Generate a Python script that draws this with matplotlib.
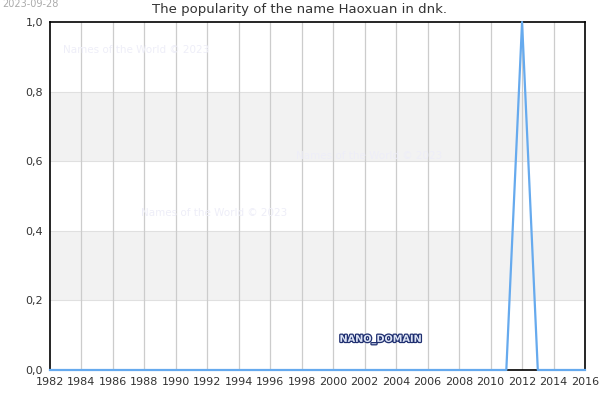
import matplotlib.pyplot as plt
import matplotlib.patheffects as pe
from matplotlib.ticker import FuncFormatter

years = list(range(1982, 2017))
popularity = [0, 0, 0, 0, 0, 0, 0, 0, 0, 0,
              0, 0, 0, 0, 0, 0, 0, 0, 0, 0,
              0, 0, 0, 0, 0, 0, 0, 0, 0, 0,
              1, 0, 0, 0, 0]
xticks = list(range(1982, 2017, 2))
yticks = [0.0, 0.2, 0.4, 0.6, 0.8, 1.0]

fig = plt.figure(figsize=(6, 4), dpi=100)
ax = fig.add_axes([50/600, 30/400, 535/600, 348/400])

# gray bands
for lo, hi in [(0.2, 0.4), (0.6, 0.8)]:
    ax.axhspan(lo, hi, color='#f2f2f2', zorder=0, lw=0)
for y in yticks[1:-1]:
    ax.axhline(y, color='#e0e0e0', lw=0.8, zorder=1)
for x in xticks[1:-1]:
    ax.axvline(x, color='#cccccc', lw=0.9, zorder=1)

ax.plot(years, popularity, color='#66aaee', lw=1.6, zorder=3, clip_on=False)

ax.set_xlim(1982, 2016)
ax.set_ylim(0, 1)
ax.set_xticks(xticks)
ax.set_yticks(yticks)
ax.yaxis.set_major_formatter(FuncFormatter(lambda v, p: f'{v:.1f}'.replace('.', ',')))
ax.tick_params(length=0, labelsize=8, labelcolor='#333333', pad=5)
for s in ax.spines.values():
    s.set_color('black')
    s.set_linewidth(1.2)

# watermarks
wm = 'Names of the World © 2023'
for x, y in [(1987.5, 0.92), (2002.3, 0.615), (1992.4, 0.451)]:
    ax.text(x, y, wm, fontsize=7.5, color='#eeeef8', ha='center', va='center', zorder=2)

ax.text(2003.0, 0.089, 'NANO_DOMAIN', fontsize=7, color='#dde4f5', ha='center', va='center',
        fontweight='bold', zorder=4,
        path_effects=[pe.withStroke(linewidth=1.8, foreground='#1f2f70')])

fig.text(300/600, 1 - 10/400, 'The popularity of the name Haoxuan in dnk.',
         ha='center', va='center', fontsize=9.5, color='#333333')
fig.text(2/600, 1 - 4/400, '2023-09-28', ha='left', va='center', fontsize=7, color='#aaaaaa')

fig.savefig('out.png', dpi=100)
